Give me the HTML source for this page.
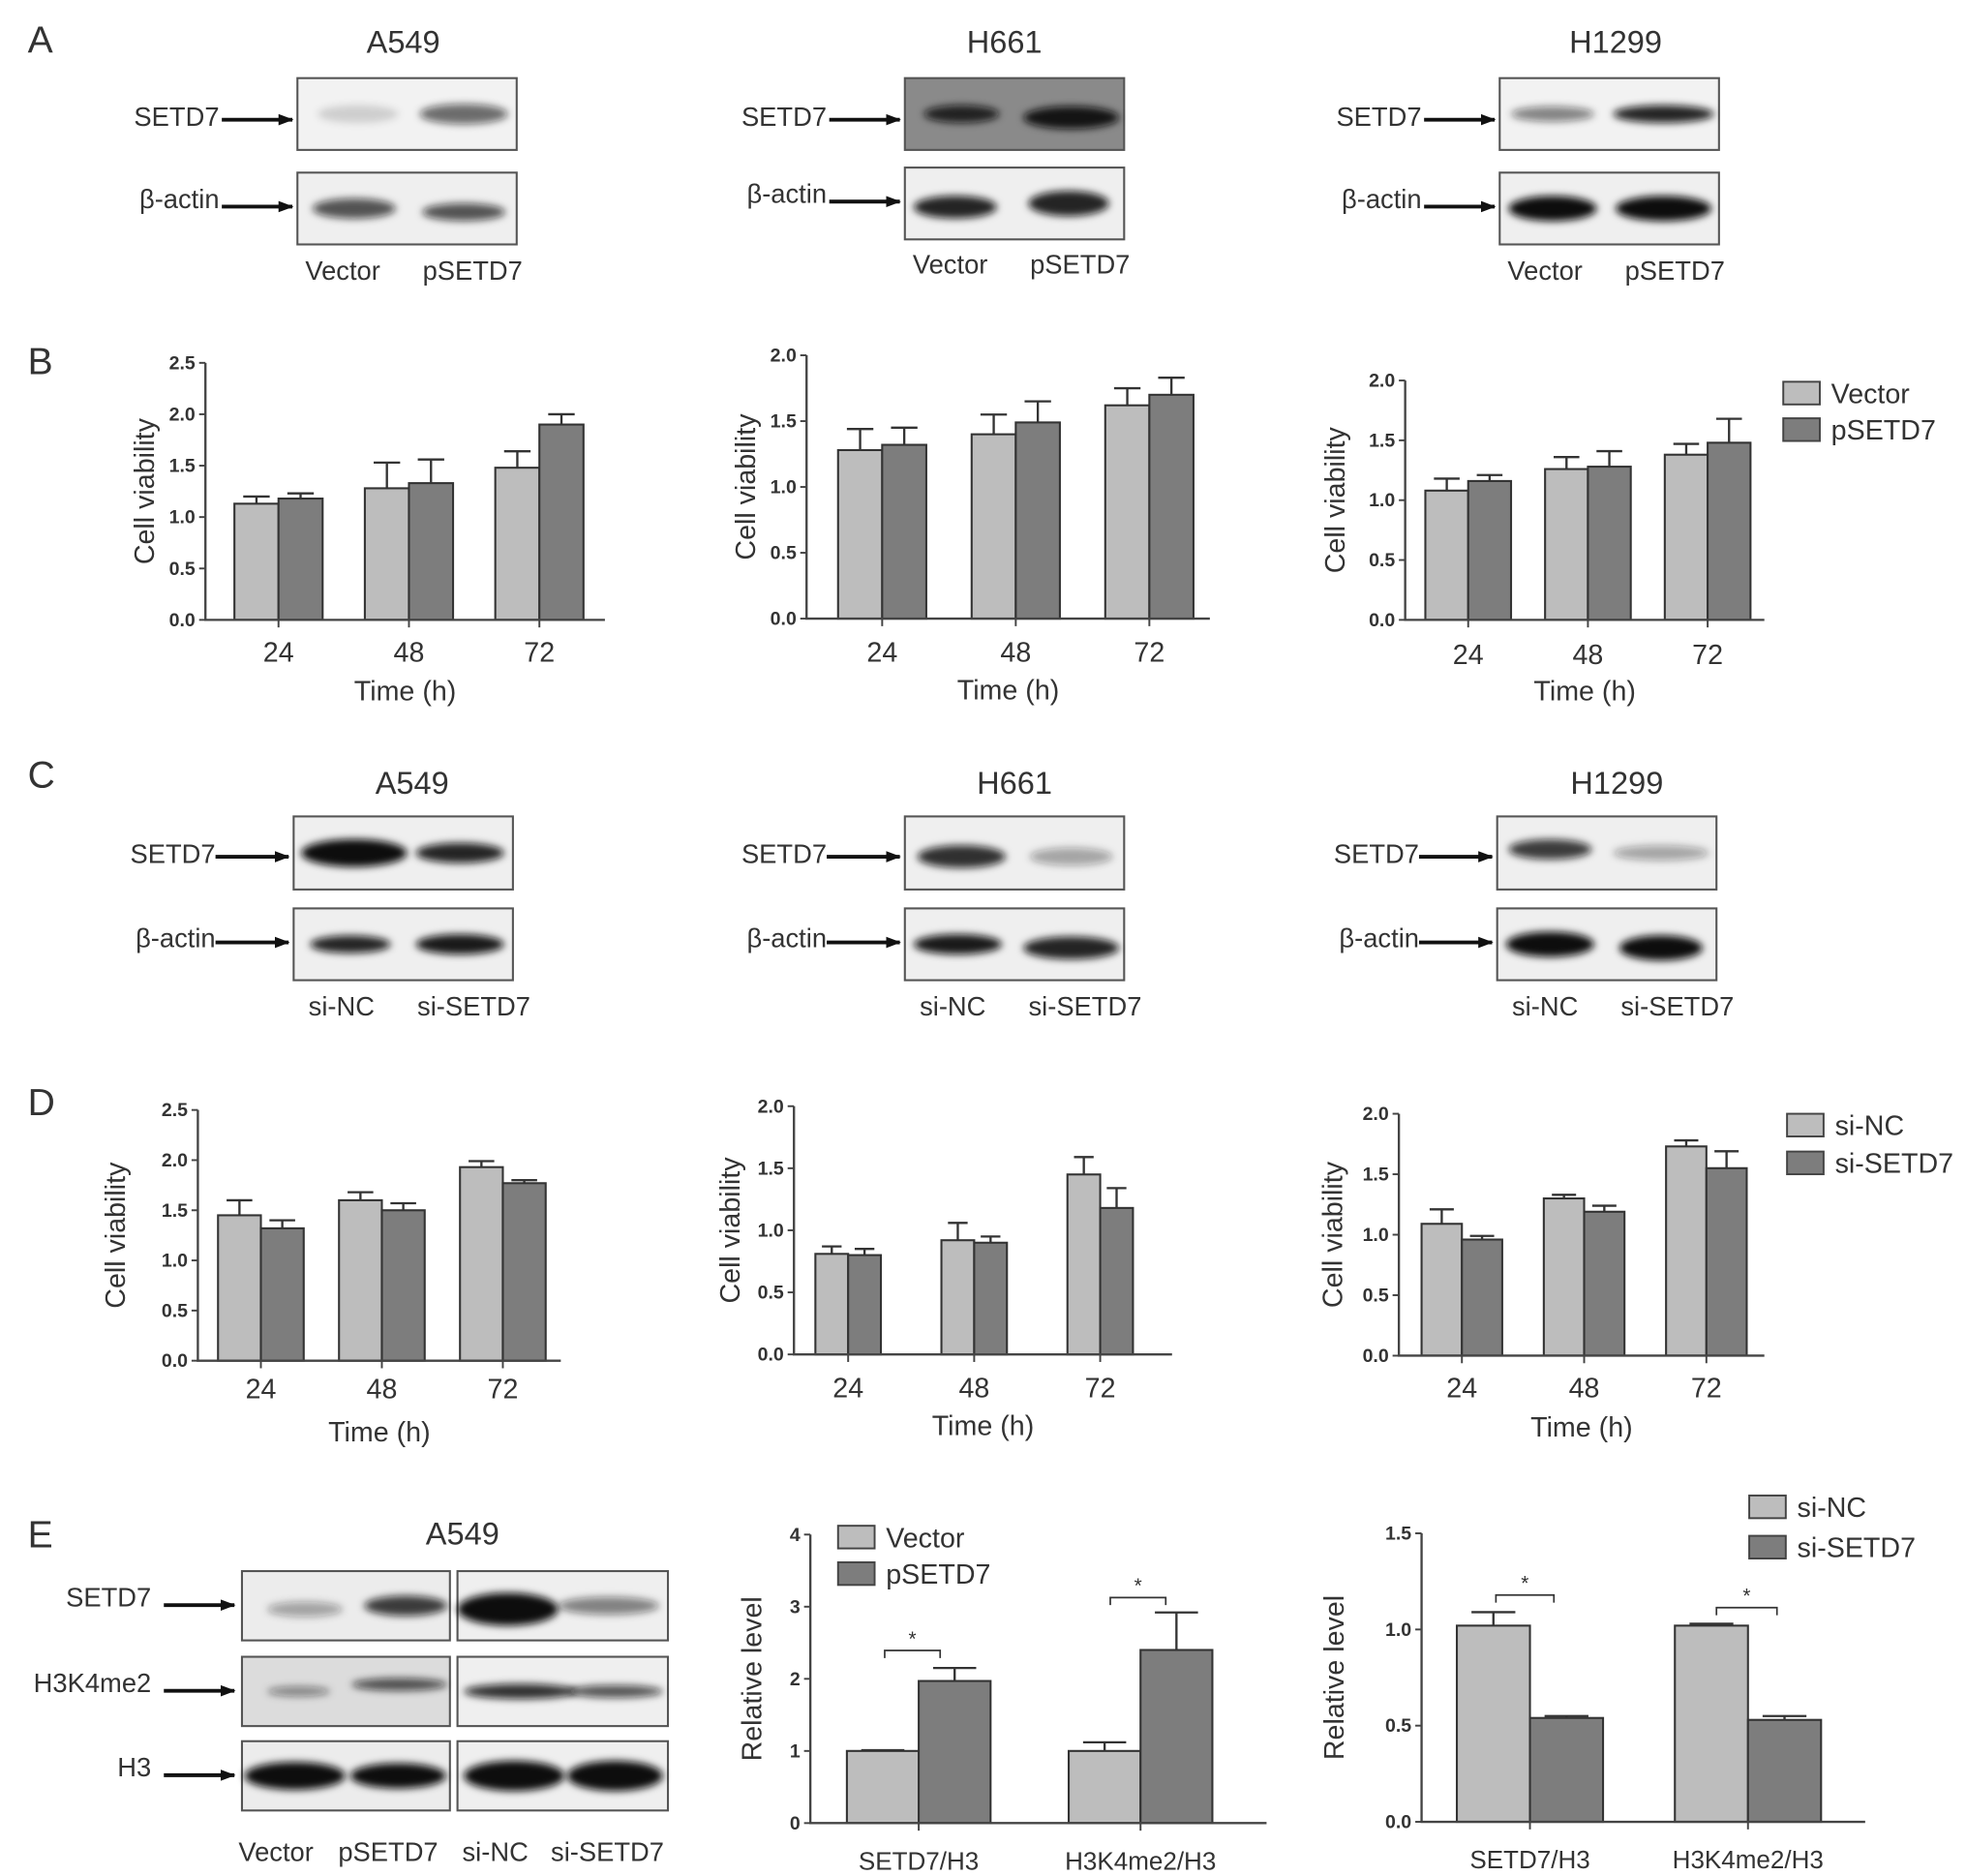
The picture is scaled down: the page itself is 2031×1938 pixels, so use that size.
<!DOCTYPE html>
<html><head><meta charset="utf-8"><style>html,body{margin:0;padding:0;background:#fff}svg{display:block}text{font-family:"Liberation Sans",sans-serif;fill:#333}</style></head>
<body>
<svg id="fig" width="2031" height="1938" viewBox="0 0 1560 1489" preserveAspectRatio="none" xmlns="http://www.w3.org/2000/svg">
<defs><filter id="bl" x="-50%" y="-100%" width="200%" height="300%"><feGaussianBlur stdDeviation="3"/></filter>
<marker id="ah" markerUnits="userSpaceOnUse" markerWidth="12" markerHeight="9" refX="11" refY="4.5" orient="auto"><path d="M0,0L12,4.5L0,9z" fill="#111"/></marker></defs>
<g id="root"></g>
</svg>
<script>
const timeCats=["24","48","72"];
const ratioCats=["SETD7/H3","H3K4me2/H3"];
const b1Vec=[1.13,1.28,1.48], b1Vec_e=[0.07,0.25,0.16], b1P=[1.18,1.33,1.90], b1P_e=[0.05,0.23,0.10];
const b2Vec=[1.28,1.40,1.62], b2Vec_e=[0.16,0.15,0.13], b2P=[1.32,1.49,1.70], b2P_e=[0.13,0.16,0.13];
const b3Vec=[1.08,1.26,1.38], b3Vec_e=[0.10,0.10,0.09], b3P=[1.16,1.28,1.48], b3P_e=[0.05,0.13,0.20];
const d1NC=[1.45,1.60,1.93], d1NC_e=[0.15,0.08,0.06], d1Si=[1.32,1.50,1.77], d1Si_e=[0.08,0.07,0.03];
const d2NC=[0.81,0.92,1.45], d2NC_e=[0.06,0.14,0.14], d2Si=[0.80,0.90,1.18], d2Si_e=[0.05,0.05,0.16];
const d3NC=[1.09,1.30,1.73], d3NC_e=[0.12,0.03,0.05], d3Si=[0.96,1.19,1.55], d3Si_e=[0.03,0.05,0.14];
const e2Vec=[1.0,1.0], e2Vec_e=[0.01,0.12], e2P=[1.97,2.40], e2P_e=[0.18,0.52];
const e3NC=[1.02,1.02], e3NC_e=[0.07,0.01], e3Si=[0.54,0.53], e3Si_e=[0.01,0.02];
const ticks25=[0,0.5,1,1.5,2,2.5], ticks20=[0,0.5,1,1.5,2], ticks4=[0,1,2,3,4], ticks15=[0,0.5,1,1.5];

const NS="http://www.w3.org/2000/svg", root=document.getElementById('root');
function mk(tag,at,parent,txt){const e=document.createElementNS(NS,tag);for(const k in at)e.setAttribute(k,at[k]);if(txt!==undefined)e.textContent=txt;(parent||root).appendChild(e);return e;}

[["A",22,32],["B",22,287],["C",22,615],["D",22,875],["E",22,1218]].forEach(p=>{
 const t=mk('text',{x:p[1],y:p[2]+10,'font-size':30},root,p[0]);
 
 
});

function blot(o){
 const g=mk('g',{});
 
 
 mk('rect',{x:o.x,y:o.y,width:o.w,height:o.h,fill:o.bg||'#efefef',stroke:'#555','stroke-width':1.6},g);
 o.bands.forEach(b=>{mk('ellipse',{cx:o.x+b[0],cy:o.y+o.h*b[1],rx:b[2],ry:b[3],fill:'#111','fill-opacity':b[4],filter:'url(#bl)'},g);});
 return g;
}
function label(x,y,txt,size,anchor,name){const t=mk('text',{x:x,y:y,'font-size':size,'text-anchor':anchor||'middle'},root,txt);
 
 return t;}
function arrow(x1,x2,y,name){const l=mk('line',{x1:x1,y1:y,x2:x2,y2:y,stroke:'#111','stroke-width':3,'marker-end':'url(#ah)'});
 
 }

[[236,320,62,137,'Vector','pSETD7',222,'#f2f2f2',[[[48,.5,32,7,.15],[132,.5,35,8,.6]],[[45,.5,33,8,.7],[132,.55,33,7,.7]]],'a549'],
 [718,797,62,133,'Vector','pSETD7',217,'#8a8a8a',[[[45,.5,30,7,.85],[132,.55,38,9,.95]],[[40,.55,33,9,.9],[130,.5,32,10,.9]]],'h661'],
 [1190,1282,62,137,'Vector','pSETD7',222,'#f2f2f2',[[[42,.5,33,6,.5],[130,.5,40,7,.9]],[[42,.5,35,10,1],[130,.5,38,10,1]]],'h1299']].forEach(b=>{
 label(b[1],42,b[0]==236?'A549':b[0]==718?'H661':'H1299',25,'middle','title-a-'+b[9]);
 blot({name:'blot-a-'+b[9]+'-setd7',x:b[0],y:b[2],w:174,h:57,bg:b[7],bands:b[8][0]});
 blot({name:'blot-a-'+b[9]+'-actin',x:b[0],y:b[3],w:174,h:57,bands:b[8][1]});
 label(b[0]-62,b[2]+38,'SETD7',21,'end','label-setd7-a-'+b[9]);
 label(b[0]-62,b[3]+28,'β-actin',21,'end','label-actin-a-'+b[9]);
 arrow(b[0]-60,b[0]-4,b[2]+33,'arrow-setd7-a-'+b[9]);
 arrow(b[0]-60,b[0]-4,b[3]+27,'arrow-actin-a-'+b[9]);
 label(b[0]+36,b[6],b[4],21,'middle','lane-vector-a-'+b[9]);
 label(b[0]+139,b[6],b[5],21,'middle','lane-psetd7-a-'+b[9]);
});
[[233,327,648,721,'A549',806,[[[48,.5,42,11,1],[132,.5,35,8,.9]],[[45,.5,32,7,.9],[132,.5,35,8,.95]]],'a549'],
 [718,805,648,721,'H661',806,[[[45,.55,35,9,.85],[132,.55,33,7,.35]],[[42,.5,35,8,.95],[132,.55,38,9,.9]]],'h661'],
 [1188,1283,648,721,'H1299',806,[[[42,.45,33,8,.8],[130,.5,38,6,.35]],[[42,.5,35,10,1],[130,.55,33,10,1]]],'h1299']].forEach(b=>{
 label(b[1],630,b[4],25,'middle','title-c-'+b[7]);
 blot({name:'blot-c-'+b[7]+'-setd7',x:b[0],y:b[2],w:174,h:58,bands:b[6][0]});
 blot({name:'blot-c-'+b[7]+'-actin',x:b[0],y:b[3],w:174,h:57,bands:b[6][1]});
 label(b[0]-62,b[2]+37,'SETD7',21,'end','label-setd7-c-'+b[7]);
 label(b[0]-62,b[3]+31,'β-actin',21,'end','label-actin-c-'+b[7]);
 arrow(b[0]-62,b[0]-4,b[2]+32,'arrow-setd7-c-'+b[7]);
 arrow(b[0]-62,b[0]-4,b[3]+27,'arrow-actin-c-'+b[7]);
 label(b[0]+38,b[5],'si-NC',21,'middle','lane-sinc-c-'+b[7]);
 label(b[0]+143,b[5],'si-SETD7',21,'middle','lane-sisetd7-c-'+b[7]);
});
label(367,1226,'A549',25,'middle','title-e-a549');
[['SETD7',1247,[[[50,.55,30,6,.35],[130,.5,33,8,.8]],[[40,.55,40,13,1],[120,.5,40,7,.5]]]],
 ['H3K4me2',1315,[[[45,.5,25,4,.45],[125,.4,38,5,.7]],[[50,.5,45,6,.85],[125,.5,38,5,.7]]]],
 ['H3',1382,[[[42,.5,40,11,1],[124,.5,38,10,1]],[[45,.5,40,12,1],[125,.5,38,12,1]]]]].forEach((r,i)=>{
 blot({name:'blot-e-left-'+r[0].toLowerCase(),x:192,y:r[1],w:165,h:55,bg:i==1?'#dcdcdc':'#ececec',bands:r[2][0]});
 blot({name:'blot-e-right-'+r[0].toLowerCase(),x:363,y:r[1],w:167,h:55,bands:r[2][1]});
 label(120,r[1]+28,r[0],21,'end','label-e-'+r[0].toLowerCase());
 arrow(130,186,r[1]+27,'arrow-e-'+r[0].toLowerCase());
});
label(219,1477,'Vector',21,'middle','lane-e-vector');label(308,1477,'pSETD7',21,'middle','lane-e-psetd7');
label(393,1477,'si-NC',21,'middle','lane-e-sinc');label(482,1477,'si-SETD7',21,'middle','lane-e-sisetd7');

function chart(c){
 const g=mk('g',{});
 
 
 const y=v=>c.yB-(v/c.max)*(c.yB-c.yT);
 const xc=i=>c.c0+i*c.step;
 c.ticks.forEach(t=>{
  mk('line',{x1:c.ax-5,x2:c.ax,y1:y(t),y2:y(t),stroke:'#444','stroke-width':1.5},g);
  const tl=mk('text',{x:c.ax-8,y:y(t)+5,'font-size':15,'font-weight':'bold','text-anchor':'end'},g,t.toFixed(c.dec));
  
  
 });
 c.cats.forEach((cat,i)=>{
  [[c.s1[0],c.s1[1],'#bdbdbd',-1],[c.s2[0],c.s2[1],'#7d7d7d',0]].forEach((s,k)=>{
   const v=s[0][i],e=s[1][i],x=xc(i)+s[3]*c.bw;
   const r=mk('rect',{x:x,y:y(v),width:c.bw,height:c.yB-y(v),fill:s[2],stroke:'#333','stroke-width':1.6},g);
   
   
   const eb=mk('path',{d:`M${x+c.bw/2},${y(v)}V${y(v+e)}M${x+c.bw/2-c.bw*0.3},${y(v+e)}H${x+c.bw/2+c.bw*0.3}`,stroke:'#333','stroke-width':1.8,fill:'none'},g);
   
   
  });
  mk('line',{x1:xc(i),x2:xc(i),y1:c.yB,y2:c.yB+6,stroke:'#444','stroke-width':1.5},g);
  const xl=mk('text',{x:xc(i),y:c.yB+c.tdy,'font-size':c.xfs,'text-anchor':'middle'},g,cat);
  
  
 });
 mk('path',{d:`M${c.ax},${c.yT}V${c.yB}H${c.xr}`,stroke:'#444','stroke-width':1.8,fill:'none'},g);
 if(c.xt){const t=mk('text',{x:(c.ax+c.xr)/2,y:c.yB+64,'font-size':22,'text-anchor':'middle'},g,c.xt);
  
  }
 const yt=mk('text',{x:0,y:0,'font-size':22,'text-anchor':'middle',transform:`translate(${c.ylx},${(c.yT+c.yB)/2}) rotate(-90)`},g,c.yt);
 
 
 (c.br||[]).forEach(b=>{
  const p=mk('path',{d:`M${b[0]},${b[2]+6}V${b[2]}H${b[1]}V${b[2]+6}`,stroke:'#333','stroke-width':1.3,fill:'none'},g);
  
  
  const s=mk('text',{x:(b[0]+b[1])/2,y:b[2]-4,'font-size':16,'text-anchor':'middle'},g,'*');
  
  
 });
}
const T=timeCats;
chart({name:'chart-b-a549',cats:T,s1:[b1Vec,b1Vec_e],s2:[b1P,b1P_e],ax:163,xr:480,yT:288,yB:492,max:2.5,ticks:ticks25,dec:1,c0:221,step:103.5,bw:35,tdy:33,xfs:22,xt:'Time (h)',yt:'Cell viability',ylx:122});
chart({name:'chart-b-h661',cats:T,s1:[b2Vec,b2Vec_e],s2:[b2P,b2P_e],ax:640,xr:960,yT:282,yB:491,max:2,ticks:ticks20,dec:1,c0:700,step:106,bw:35,tdy:34,xfs:22,xt:'Time (h)',yt:'Cell viability',ylx:599});
chart({name:'chart-b-h1299',cats:T,s1:[b3Vec,b3Vec_e],s2:[b3P,b3P_e],ax:1115,xr:1400,yT:302,yB:492,max:2,ticks:ticks20,dec:1,c0:1165,step:95,bw:34,tdy:35,xfs:22,xt:'Time (h)',yt:'Cell viability',ylx:1067});
chart({name:'chart-d-a549',cats:T,s1:[d1NC,d1NC_e],s2:[d1Si,d1Si_e],ax:157,xr:445,yT:881,yB:1080,max:2.5,ticks:ticks25,dec:1,c0:207,step:96,bw:34,tdy:30,xfs:22,xt:'Time (h)',yt:'Cell viability',ylx:99});
chart({name:'chart-d-h661',cats:T,s1:[d2NC,d2NC_e],s2:[d2Si,d2Si_e],ax:630,xr:930,yT:878,yB:1075,max:2,ticks:ticks20,dec:1,c0:673,step:100,bw:26,tdy:34,xfs:22,xt:'Time (h)',yt:'Cell viability',ylx:587});
chart({name:'chart-d-h1299',cats:T,s1:[d3NC,d3NC_e],s2:[d3Si,d3Si_e],ax:1110,xr:1400,yT:884,yB:1076,max:2,ticks:ticks20,dec:1,c0:1160,step:97,bw:32,tdy:33,xfs:22,xt:'Time (h)',yt:'Cell viability',ylx:1065});
chart({name:'chart-e-overexpression',cats:ratioCats,s1:[e2Vec,e2Vec_e],s2:[e2P,e2P_e],ax:643,xr:1005,yT:1218,yB:1447,max:4,ticks:ticks4,dec:0,c0:729,step:176,bw:57,tdy:37,xfs:20,yt:'Relative level',ylx:604,br:[[702,746,1310],[881,925,1268]]});
chart({name:'chart-e-knockdown',cats:ratioCats,s1:[e3NC,e3NC_e],s2:[e3Si,e3Si_e],ax:1128,xr:1480,yT:1217,yB:1446,max:1.5,ticks:ticks15,dec:1,c0:1214,step:173,bw:58,tdy:37,xfs:20,yt:'Relative level',ylx:1066,br:[[1187,1233,1266],[1362,1410,1276]]});

function legend(x,y,gap,labs,name){
 const g=mk('g',{});
 
 
 labs.forEach((l,i)=>{
  mk('rect',{x:x,y:y+i*gap-9,width:29,height:18,fill:i?'#7d7d7d':'#bdbdbd',stroke:'#444','stroke-width':1.5},g);
  const t=mk('text',{x:x+38,y:y+i*gap+8,'font-size':22,'text-anchor':'start'},g,l);
  
  
 });
}
legend(1415,312,29,['Vector','pSETD7'],'legend-b');
legend(1418,893,30,['si-NC','si-SETD7'],'legend-d');
legend(665,1220,29,['Vector','pSETD7'],'legend-e-overexpression');
legend(1388,1196,32,['si-NC','si-SETD7'],'legend-e-knockdown');
</script>
</body></html>
